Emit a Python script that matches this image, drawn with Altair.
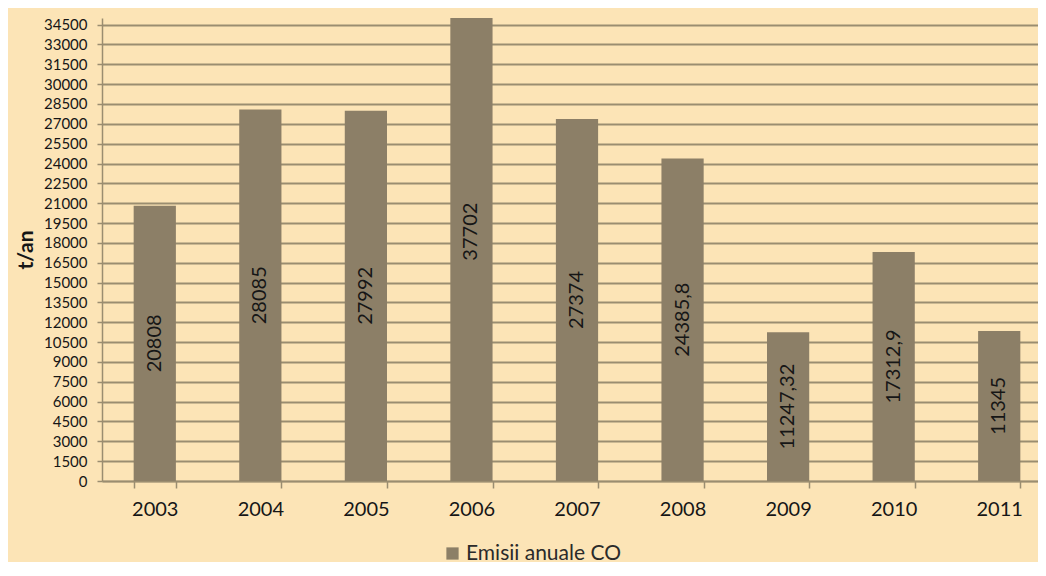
import altair as alt
import pandas as pd

years = ["2003", "2004", "2005", "2006", "2007", "2008", "2009", "2010", "2011"]
values = [20808, 28085, 27992, 37702, 27374, 24385.8, 11247.32, 17312.9, 11345]
labels = ["20808", "28085", "27992", "37702", "27374", "24385,8", "11247,32", "17312,9", "11345"]
series_name = "Emisii anuale CO"
y_ticks = list(range(0, 34501, 1500))

BG = "#FCE4B6"
BAR = "#8C7F67"
GRID = "#9A8D70"
TXT = "#161616"
FONT = "Lato"

df = pd.DataFrame({
    "year": years,
    "value": values,
    "label": labels,
    "series": [series_name] * len(years),
})
df["mid"] = df["value"] / 2

x_axis = alt.Axis(
    title=None, labelAngle=0, tickBand="extent", grid=False,
    domainColor=GRID, domainWidth=1.5, tickColor=GRID, tickWidth=1.5,
    tickSize=7, labelPadding=11, labelFontSize=20, labelFont=FONT,
    labelColor=TXT,
)
x_scale = alt.Scale(paddingInner=0.6, paddingOuter=0.3)

y_axis = alt.Axis(
    values=y_ticks, format="d", title="t/an", grid=True,
    labelOverlap=False, labelBound=False, tickCount=len(y_ticks),
    gridColor=GRID, gridWidth=1.8, domainColor=GRID, domainWidth=1.5,
    tickColor=GRID, tickWidth=1.5, tickSize=5, labelPadding=10,
    labelFontSize=15, labelFont=FONT, labelColor=TXT,
    titleFontSize=21, titleFont=FONT, titleFontWeight="bold",
    titleColor=TXT, titlePadding=7,
)
y_scale = alt.Scale(domain=[0, 35000], nice=False)

bars = alt.Chart(df).mark_bar(clip=True).encode(
    x=alt.X("year:N", sort=years, scale=x_scale, axis=x_axis),
    y=alt.Y("value:Q", scale=y_scale, axis=y_axis),
    color=alt.Color(
        "series:N",
        scale=alt.Scale(range=[BAR]),
        legend=alt.Legend(
            title=None, orient="none", legendX=340, legendY=525,
            symbolType="square", symbolSize=150, symbolStrokeWidth=0,
            labelFontSize=21, labelFont=FONT, labelColor="#2a2a2a",
            labelOffset=3, padding=0,
        ),
    ),
)

text = alt.Chart(df).mark_text(
    angle=270, fontSize=20, font=FONT, color=TXT, align="center", baseline="middle"
).encode(
    x=alt.X("year:N", sort=years, scale=x_scale, axis=x_axis),
    y=alt.Y("mid:Q", scale=y_scale, axis=y_axis),
    text="label:N",
)

chart = alt.layer(bars, text).properties(
    width=950,
    height=463,
    autosize=alt.AutoSizeParams(type="none"),
    padding={"left": 94, "top": 10, "right": -14, "bottom": 81},
    background=BG,
).configure_view(stroke=None)

chart.save("out.html", embed_options={"renderer": "svg", "actions": False})
